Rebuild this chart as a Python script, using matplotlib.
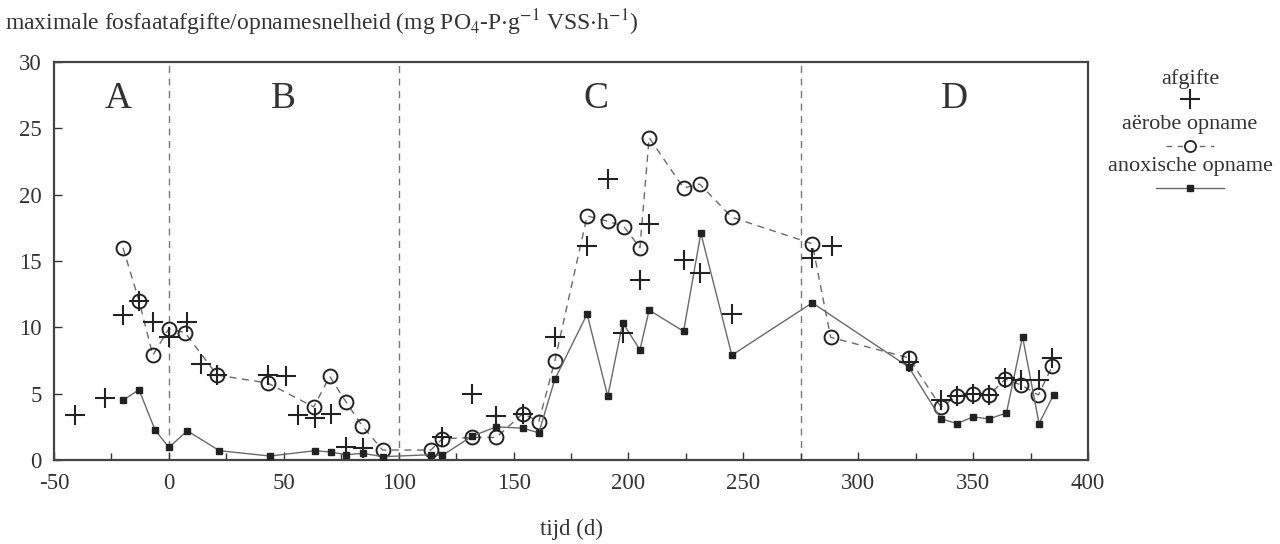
import matplotlib.pyplot as plt
from matplotlib.lines import Line2D
from matplotlib.ticker import MultipleLocator

plt.rcParams['font.family'] = ['Liberation Serif', 'DejaVu Serif']
plt.rcParams['mathtext.fontset'] = 'stix'
plt.rcParams['axes.unicode_minus'] = False

# afgifte (+)
afgifte_t = [-41, -28, -20, -13, -7, 0, 8, 14, 21, 43, 51, 56, 63.5, 70.7, 77, 84.5,
             119, 132, 142.5, 154, 168, 182, 191, 197.5, 205, 209, 224, 231, 245,
             280, 288.6, 322, 336, 343, 350, 357, 364, 371, 378.7, 384.5]
afgifte_v = [3.4, 4.65, 10.9, 12.0, 10.4, 9.3, 10.4, 7.2, 6.4, 6.4, 6.3, 3.4, 3.2, 3.5, 1.0, 0.9,
             1.7, 5.0, 3.3, 3.5, 9.3, 16.1, 21.15, 9.6, 13.6, 17.8, 15.1, 14.1, 11.0,
             15.2, 16.1, 7.4, 4.5, 4.8, 5.0, 4.9, 6.15, 6.0, 6.0, 7.66]

# aerobe opname (o, dashed)
aerobe_t = [-20, -13, -7, 0, 7, 21, 43, 63, 70, 77, 84, 93, 114, 119, 132, 142.5, 154, 161,
            168, 182, 191, 198, 205, 209, 224, 231, 245, 280, 288, 322, 336, 343, 350, 357,
            364, 371, 378.4, 384.5]
aerobe_v = [16.0, 12.0, 7.9, 9.9, 9.6, 6.4, 5.8, 4.0, 6.3, 4.4, 2.6, 0.75, 0.75, 1.6, 1.7, 1.7, 3.5, 2.9,
            7.5, 18.4, 18.0, 17.6, 16.0, 24.3, 20.5, 20.8, 18.3, 16.3, 9.25, 7.7, 4.0, 4.8, 5.0, 4.9,
            6.1, 5.65, 4.9, 7.1]

# anoxische opname (square, solid)
anox_t = [-20, -13, -6, 0, 8, 22, 44, 63.5, 70.5, 77, 84.5, 93, 114, 119, 132, 142.5, 154, 161,
          168, 182, 191, 197.5, 205, 209, 224, 231.5, 245, 280, 322, 336, 343, 350, 357, 364.5,
          371.5, 378.7, 385]
anox_v = [4.5, 5.3, 2.25, 0.95, 2.2, 0.7, 0.3, 0.7, 0.6, 0.4, 0.5, 0.25, 0.4, 0.35, 1.8, 2.5, 2.4, 2.05,
          6.1, 11.0, 4.8, 10.35, 8.3, 11.3, 9.7, 17.1, 7.9, 11.85, 7.0, 3.1, 2.75, 3.25, 3.1, 3.55,
          9.3, 2.75, 4.9]

period_bounds = [0, 100, 275]
period_names = ['A', 'B', 'C', 'D']
period_pos = [-22, 50, 186, 342]

fig = plt.figure(figsize=(12.8, 5.44), dpi=100)
ax = fig.add_axes([0.0422, 0.1544, 0.8078, 0.7316])

line_c = '#6a6a6a'
mark_c = '#222222'

for b in period_bounds:
    ax.axvline(b, color='#777777', lw=1, ls=(0, (5, 4)), zorder=1)

ax.plot(aerobe_t, aerobe_v, color=line_c, lw=1, ls=(0, (5, 4)), zorder=2)
ax.plot(aerobe_t, aerobe_v, ls='none', marker='o', ms=10, mfc='none', mec=mark_c, mew=1.4, zorder=3)
ax.plot(anox_t, anox_v, color=line_c, lw=1, marker='s', ms=4.5, mfc=mark_c, mec=mark_c, zorder=3)
ax.plot(afgifte_t, afgifte_v, ls='none', marker='+', ms=15, mec=mark_c, mew=1.5, zorder=4)

for name, xp in zip(period_names, period_pos):
    ax.text(xp, 27.2, name, fontsize=27, ha='center', va='center', color='#333333')

ax.set_xlim(-50, 400)
ax.set_ylim(0, 30)
ax.xaxis.set_major_locator(MultipleLocator(50))
ax.xaxis.set_minor_locator(MultipleLocator(25))
ax.yaxis.set_major_locator(MultipleLocator(5))
ax.tick_params(axis='both', which='both', direction='in', labelsize=16.5, colors='#333333', width=1)
ax.tick_params(axis='both', which='major', length=6, pad=9)
ax.tick_params(axis='both', which='minor', length=5)
for s in ax.spines.values():
    s.set_color('#444444')
    s.set_linewidth(1.6)
ax.set_xlabel('tijd (d)', fontsize=16.5, color='#333333', labelpad=18)

fig.text(0.004, 0.958, 'maximale fosfaatafgifte/opnamesnelheid (mg PO$_4$-P$\\cdot$g$^{-1}$ VSS$\\cdot$h$^{-1}$)',
         fontsize=17, ha='left', va='center', color='#333333')

# legend
lx = 1190 / 1280
fig.text(lx, 1 - 79 / 544, 'afgifte', fontsize=16, ha='center', va='center', color='#333333')
fig.add_artist(Line2D([lx], [1 - 99 / 544], transform=fig.transFigure, ls='none',
                      marker='+', ms=15, mec=mark_c, mew=1.5))
fig.text(lx, 1 - 125 / 544, 'aërobe opname', fontsize=16, ha='center', va='center', color='#333333')
fig.add_artist(Line2D([lx - 24 / 1280, lx + 24 / 1280], [1 - 146 / 544] * 2, transform=fig.transFigure,
                      color=line_c, lw=1, ls=(0, (4, 4))))
fig.add_artist(Line2D([lx], [1 - 146 / 544], transform=fig.transFigure, ls='none',
                      marker='o', ms=8, mfc='white', mec=mark_c, mew=1.3))
fig.text(lx, 1 - 167 / 544, 'anoxische opname', fontsize=16, ha='center', va='center', color='#333333')
fig.add_artist(Line2D([lx - 34 / 1280, lx + 34 / 1280], [1 - 188 / 544] * 2, transform=fig.transFigure,
                      color=line_c, lw=1))
fig.add_artist(Line2D([lx], [1 - 188 / 544], transform=fig.transFigure, ls='none',
                      marker='s', ms=4.5, mfc=mark_c, mec=mark_c))

fig.savefig('out.png', dpi=100)
